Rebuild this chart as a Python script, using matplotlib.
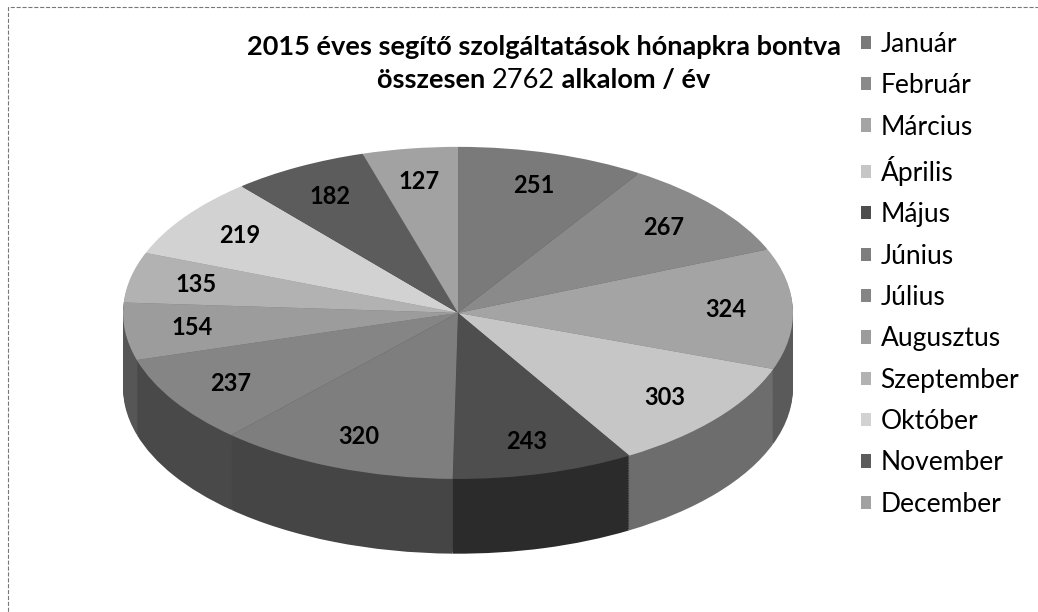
import numpy as np
import matplotlib
matplotlib.use('Agg')
import matplotlib.pyplot as plt
from matplotlib.patches import Rectangle
from matplotlib.colors import to_rgb

# adatok
honapok = ['Január', 'Február', 'Március', 'Április', 'Május', 'Június',
           'Július', 'Augusztus', 'Szeptember', 'Október', 'November', 'December']
alkalom = [251, 267, 324, 303, 243, 320, 237, 154, 135, 219, 182, 127]
szinek = ['#7a7a7a', '#8a8a8a', '#a4a4a4', '#c6c6c6', '#4e4e4e', '#7e7e7e',
          '#858585', '#9c9c9c', '#b2b2b2', '#d2d2d2', '#5c5c5c', '#a2a2a2']
osszes = sum(alkalom)

plt.rcParams['font.family'] = ['Lato', 'DejaVu Sans']

fig = plt.figure(figsize=(10.38, 6.12), dpi=100)
ax = fig.add_axes([0.1024, 0.0546, 0.6777, 0.719])

# oldalfal: sotetebb szinek, egymasra rakott tortak
sotet = [tuple(c * 0.55 for c in to_rgb(s)) for s in szinek]
melyseg = 0.45
for k in np.linspace(melyseg, 0.01, 45):
    ax.pie(alkalom, colors=sotet, startangle=90, counterclock=False,
           center=(0, -k), wedgeprops=dict(linewidth=0))

# teteje
wedges, _, feliratok = ax.pie(alkalom, colors=szinek, startangle=90, counterclock=False,
                              autopct=lambda p: '%d' % round(p * osszes / 100),
                              pctdistance=0.8,
                              wedgeprops=dict(linewidth=0),
                              textprops=dict(fontsize=17, fontweight='bold', color='black'))

ax.set_aspect('auto')
ax.set_xlim(-1.05, 1.05)
ax.set_ylim(-1.6, 1.05)
ax.axis('off')

jelek = [Rectangle((0, 0), 1, 1, fc=c, ec='none') for c in szinek]
fig.legend(jelek, honapok, loc='upper left', bbox_to_anchor=(0.829, 0.948),
           frameon=False, fontsize=19, handlelength=0.4, handleheight=0.4,
           handletextpad=0.36, labelspacing=0.62, borderpad=0, borderaxespad=0)

# cim
fig.text(0.524, 0.924, '2015 éves segítő szolgáltatások hónapkra bontva',
         ha='center', va='center', fontsize=19.5, fontweight='bold')

reszek = [('összesen ', 'bold'), (str(osszes), 'normal'), (' alkalom / év', 'bold')]
r = fig.canvas.get_renderer()
tt = [fig.text(0, 0.869, s, ha='left', va='center', fontsize=19.5, fontweight=w) for s, w in reszek]
szel = [t.get_window_extent(r).width for t in tt]
x = 544 - sum(szel) / 2
for t, w in zip(tt, szel):
    t.set_x(x / 1038)
    x += w

fig.patches.append(Rectangle((0.0077, -0.1), 1.2, 1.0886, transform=fig.transFigure,
                             fill=False, ls='--', lw=0.8, ec='#777777'))

fig.savefig('out.png', dpi=100)
